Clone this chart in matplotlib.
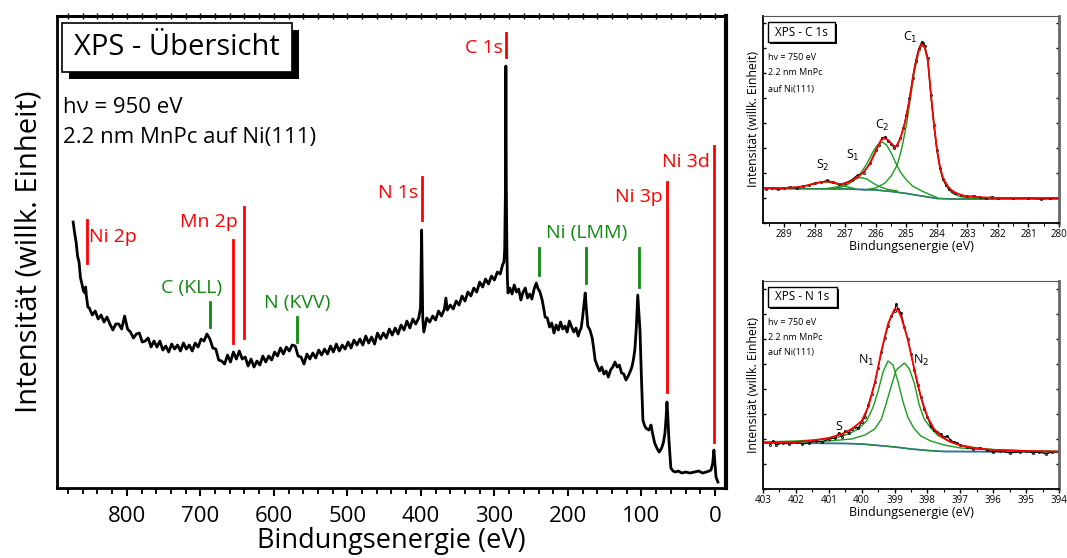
import matplotlib
matplotlib.use('Agg')
import matplotlib.pyplot as plt
from matplotlib.patches import Rectangle
from matplotlib.ticker import MultipleLocator, NullLocator

plt.rcParams['font.family'] = ['Open Sans', 'DejaVu Sans']

# ---------------- survey spectrum (binding energy eV, intensity a.u.) ----------------
survey_E = [873, 871, 869, 867, 865, 863, 861, 859, 857, 856, 855, 853,
            851, 847, 843, 839, 835, 831, 827, 823, 819, 815, 811, 807, 803, 799, 795, 791,
            787, 783, 779, 775, 771, 767, 763, 759, 755, 751, 747, 743, 739, 735, 731, 727,
            723, 719, 715, 711, 707, 703, 699, 695, 691, 687, 683, 679, 675, 671, 667, 663,
            659, 655, 651, 647, 643, 639, 635, 631, 627, 623, 619, 615, 611, 607, 603, 599,
            595, 591, 587, 583, 579, 575, 571, 567, 563, 559, 555, 551, 547, 543, 539, 535,
            531, 527, 523, 519, 515, 511, 507, 503, 499, 495, 491, 487, 483, 479, 475, 471,
            467, 463, 459, 455, 451, 447, 443, 439, 435, 431, 427, 423, 419, 415, 411, 407, 403,
            400.5, 399, 397.5, 396,
            392, 388, 384, 380, 376, 372, 368, 366, 364, 360, 356, 352, 348, 344, 340, 336,
            332, 328, 324, 320, 316, 312, 308, 304, 300, 296, 292, 289, 287, 286, 285, 284.4,
            283.8, 283, 282.3, 281.5,
            279, 276, 273, 270, 267, 264, 261, 258, 255, 252, 249, 246, 243, 241, 238, 235,
            233, 231, 228, 225, 222, 219, 216, 213, 210, 207, 204, 201, 198, 195, 192, 189,
            186, 184, 182, 180, 178, 176.5, 175, 173, 170, 167, 165, 163, 160, 157, 154, 151,
            148, 145, 142, 139, 136, 133, 130, 127, 124, 121, 118, 115, 113, 111, 109, 107,
            105, 103.5, 102, 100, 98, 96, 94, 92, 90, 88, 87, 85, 82, 79, 76, 74, 72, 70, 68,
            66.5, 65.3, 64, 62.6, 61, 60, 57, 54, 50, 45, 40, 34, 28, 22, 17, 12, 8, 5.4, 3,
            1.4, 0, -1.4, -4]
survey_I = [266, 255, 246, 232, 226, 210, 204, 197, 195, 201, 192, 181,
            180, 173, 177, 169, 173, 166, 171, 164, 158, 164, 164, 159, 172, 159, 156, 150,
            154, 155, 146, 147, 150, 141, 147, 141, 147, 138, 142, 136, 144, 139, 143, 137,
            145, 139, 143, 137, 145, 141, 149, 147, 154, 149, 140, 139, 128, 127, 124, 133,
            126, 136, 129, 137, 129, 131, 122, 129, 121, 127, 123, 132, 126, 132, 128, 136,
            132, 140, 134, 141, 137, 143, 142, 132, 131, 124, 134, 129, 135, 130, 138, 133,
            139, 134, 142, 136, 144, 137, 143, 139, 146, 140, 148, 143, 149, 143, 152, 145,
            151, 144, 155, 149, 155, 150, 159, 153, 160, 154, 163, 158, 167, 160, 169, 164, 170,
            180, 258, 170, 156,
            170, 166, 172, 168, 177, 172, 179, 190, 178, 183, 179, 187, 183, 192, 187, 196,
            192, 200, 196, 206, 201, 209, 204, 212, 208, 216, 214, 223, 226, 238, 300, 422,
            300, 238, 208, 195,
            200, 194, 203, 196, 199, 188, 196, 200, 190, 194, 189, 199, 205, 200, 196, 188,
            180, 171, 170, 161, 165, 155, 163, 158, 166, 159, 162, 156, 167, 161, 156, 160,
            152, 157, 160, 171, 185, 195, 180, 162, 158, 150, 140, 128, 122, 117, 121, 114,
            117, 111, 118, 121, 126, 121, 123, 115, 114, 108, 112, 117, 121, 128, 138, 160,
            193, 175, 158, 110, 68, 63, 60, 59, 58, 61, 63, 55, 45, 40, 36, 38, 41, 46, 55,
            70, 86, 70, 48, 30, 20, 17, 16, 17, 15, 16, 15, 16, 17, 15, 16, 17, 18, 25,
            38, 25, 11, 6]

# peak markers in the survey
red_labels = ['Ni 2p', 'Mn 2p', 'N 1s', 'C 1s', 'Ni 3p', 'Ni 3d']
red_text_E = [851, 649, 404, 288.5, 70.7, 6.8]
red_text_I = [251, 266, 295, 440, 291, 326]
red_line_E = [854, 656, 641, 399, 284, 65.7, 1]
red_line_lo = [225, 145, 150, 268, 431, 96, 46]
red_line_hi = [268, 248, 281, 311, 455, 306, 342]

green_labels = ['C (KLL)', 'N (KVV)', 'Ni (LMM)']
green_text_E = [711.6, 568, 174]
green_text_I = [200, 185, 255]
green_line_E = [687, 569, 240, 176, 103]
green_line_lo = [161, 146, 213, 205, 201]
green_line_hi = [186, 171, 240, 240, 240]

# ---------------- C 1s detail ----------------
c_data_E = [289.6, 289.4, 289.2, 289.0, 288.8, 288.6, 288.4, 288.2, 288.0, 287.8, 287.6, 287.4,
            287.2, 287.0, 286.8, 286.6, 286.4, 286.2, 286.0, 285.9, 285.8, 285.7, 285.6, 285.5,
            285.4, 285.3, 285.2, 285.1, 285.0, 284.9, 284.8, 284.7, 284.6, 284.5, 284.45, 284.4,
            284.3, 284.2, 284.1, 284.0, 283.9, 283.8, 283.7, 283.6, 283.5, 283.4, 283.2, 283.0,
            282.8, 282.6, 282.4, 282.2, 282.0, 281.5, 281.0, 280.6, 280.3, 280.0]
c_data_I = [34, 35, 33.5, 35, 36, 34.5, 37, 37.5, 40, 40.5, 42.5, 41,
            38.5, 40, 43, 48, 50, 60, 73, 78, 85, 86, 82, 79,
            75, 78, 85, 95, 108, 125, 145, 162, 174, 181, 180, 177,
            165, 128, 98, 73, 55, 44, 38, 34, 32, 30, 28, 26.5,
            27, 25.5, 25, 26, 25, 24.5, 25, 24, 25, 24.5]
c_env_E = [289.7, 289.0, 288.5, 288.1, 287.8, 287.6, 287.4, 287.2, 287.0, 286.8, 286.6, 286.4,
           286.2, 286.0, 285.85, 285.75, 285.6, 285.45, 285.35, 285.2, 285.05, 284.9, 284.75,
           284.6, 284.5, 284.4, 284.3, 284.2, 284.1, 284.0, 283.9, 283.8, 283.65, 283.5, 283.3,
           283.1, 282.8, 282.0, 280.0]
c_env_I = [35, 35, 36, 38.5, 41, 41.5, 40.5, 39, 39.5, 42, 46, 51,
           59, 72, 82, 85, 83, 78, 76, 84, 100, 123, 152,
           172, 179, 176, 163, 130, 100, 74, 56, 45, 37, 32, 29,
           27, 26, 25, 25]
c_bkg_E = [289.7, 287.0, 286.0, 285.5, 285.0, 284.5, 284.0, 283.5, 280.0]
c_bkg_I = [34.5, 34, 33, 31.5, 29.5, 27, 24.5, 24, 24]
c1_E = [286.4, 286.0, 285.7, 285.5, 285.3, 285.15, 285.0, 284.9, 284.75, 284.6, 284.5, 284.4,
        284.3, 284.2, 284.1, 284.0, 283.9, 283.8, 283.65, 283.5, 283.3, 283.0, 282.5, 282.0]
c1_I = [33, 35, 40, 47, 58, 75, 98, 118, 150, 172, 178, 175,
        162, 128, 98, 72, 54, 43, 35, 30, 27, 25, 24.5, 24]
c2_E = [287.4, 287.0, 286.6, 286.3, 286.1, 285.95, 285.8, 285.65, 285.5, 285.35, 285.2, 285.0,
        284.8, 284.5, 284.2, 284.0]
c2_I = [34, 37, 45, 59, 71, 78, 81, 78, 70, 60, 51, 43,
        37, 32, 28, 25.5]
s1_E = [287.6, 287.2, 286.9, 286.7, 286.5, 286.3, 286.1, 285.9, 285.6, 285.3]
s1_I = [34.5, 36.5, 41, 44, 45.5, 44, 40, 36.5, 33.5, 32]
s2_E = [288.8, 288.4, 288.1, 287.9, 287.7, 287.5, 287.3, 287.0, 286.7]
s2_I = [35, 36.5, 39, 40.5, 41, 40.5, 39, 36.5, 34.5]
c_labels = ['C$_1$', 'C$_2$', 'S$_1$', 'S$_2$']
c_label_E = [284.86, 285.78, 286.76, 287.75]
c_label_I = [186, 98, 68, 58]

# ---------------- N 1s detail ----------------
n_data_E = [402.8, 402.7, 402.6, 402.4, 402.2, 402.0, 401.8, 401.6, 401.4, 401.2, 401.0, 400.8,
            400.7, 400.6, 400.5, 400.4, 400.3, 400.2, 400.1, 400.0, 399.9, 399.8, 399.7, 399.6,
            399.5, 399.4, 399.3, 399.2, 399.1, 399.0, 398.95, 398.9, 398.8, 398.7, 398.6, 398.5,
            398.4, 398.3, 398.2, 398.1, 398.0, 397.9, 397.8, 397.7, 397.6, 397.5, 397.4, 397.3,
            397.2, 397.1, 397.0, 396.8, 396.6, 396.4, 396.2, 396.0, 395.8, 395.5, 395.2, 395.0,
            394.8, 394.6, 394.4, 394.2, 394.0]
n_data_I = [44, 48, 44, 46, 45, 47, 45, 46, 48, 47, 50, 51,
            56, 52, 58, 56, 60, 62, 61, 67, 72, 84, 95, 107,
            121, 137, 151, 163, 173, 178, 185, 180, 176, 162, 150, 135,
            119, 104, 92, 80, 72, 63, 59, 57, 55, 52, 53, 49,
            47, 46, 44, 42, 40, 41, 39, 37, 38, 36, 37, 38,
            36, 37, 35, 37, 37]
n_env_E = [403, 402, 401.5, 401, 400.6, 400.3, 400.0, 399.8, 399.6, 399.4, 399.2, 399.0, 398.9,
           398.8, 398.6, 398.4, 398.2, 398.0, 397.8, 397.6, 397.3, 397.0, 396.5, 396, 395, 394]
n_env_I = [46, 47, 48.5, 51, 55, 60, 68, 82, 106, 138, 165, 180, 179,
           172, 150, 120, 92, 72, 60, 53, 47, 43.5, 40.5, 39, 38, 37.5]
n_bkg_E = [403, 400.5, 400, 399.5, 399, 398.5, 398, 397.5, 394]
n_bkg_I = [46, 45.5, 45, 43.5, 42, 40, 38.5, 37.5, 37]
n1_E = [403, 402, 401.2, 400.8, 400.4, 400.1, 399.85, 399.65, 399.5, 399.35, 399.2, 399.05,
        398.9, 398.75, 398.6, 398.4, 398.2, 397.9, 397.5, 397, 396, 394]
n1_I = [47, 48, 49.5, 51, 55, 60, 68, 82, 98, 117, 128, 124,
        108, 88, 72, 60, 53, 48, 44, 41, 39, 37.5]
n2_E = [403, 402, 401, 400.3, 399.9, 399.6, 399.4, 399.25, 399.1, 398.95, 398.7, 398.55,
        398.4, 398.25, 398.1, 397.9, 397.7, 397.4, 397, 396.5, 396, 395, 394]
n2_I = [46.5, 47, 48, 50, 54, 60, 70, 86, 103, 119, 126, 120,
        106, 84, 70, 61, 54, 48.5, 44, 41, 39.5, 38, 37.5]
n_labels = ['N$_1$', 'N$_2$', 'S']
n_label_E = [399.85, 398.2, 400.7]
n_label_I = [129, 129, 62]

RED = '#ff0000'
GREEN = '#118a11'
FGREEN = '#1c9a1c'


def shadow_box(ax, x0, y0, w, h, dx, dy, lw):
    ax.add_patch(Rectangle((x0 + dx, y0 - dy), w, h, transform=ax.transAxes,
                           facecolor='black', edgecolor='black', lw=0,
                           clip_on=False, zorder=8))
    ax.add_patch(Rectangle((x0, y0), w, h, transform=ax.transAxes,
                           facecolor='white', edgecolor='black', lw=lw,
                           clip_on=False, zorder=9))


fig = plt.figure(figsize=(10.67, 5.58), dpi=100)

# ---------------- main survey ----------------
ax = fig.add_axes([0.0534, 0.1254, 0.627, 0.8459])
ax.plot(survey_E, survey_I, color='black', lw=2.0, zorder=3)
ax.set_xlim(895, -15)
ax.set_ylim(0, 472)
ax.xaxis.set_major_locator(MultipleLocator(100))
ax.xaxis.set_minor_locator(MultipleLocator(20))
ax.yaxis.set_major_locator(NullLocator())
ax.tick_params(axis='x', which='major', direction='out', length=6, width=1.5,
               labelsize=16, pad=7)
ax.tick_params(axis='x', which='minor', direction='out', length=4, width=1.3)
for side in ['left', 'bottom', 'top']:
    ax.spines[side].set_linewidth(2)
ax.spines['right'].set_linewidth(3)
top = ax.secondary_xaxis('top')
top.xaxis.set_major_locator(MultipleLocator(20))
top.tick_params(axis='x', which='major', direction='inout', length=4, width=1,
                labeltop=False)
top.spines['top'].set_linewidth(2)
ax.set_xlabel('Bindungsenergie (eV)', fontsize=19.5, labelpad=0)
ax.set_ylabel('Intensität (willk. Einheit)', fontsize=21, labelpad=10)

for E, lo, hi in zip(red_line_E, red_line_lo, red_line_hi):
    ax.plot([E, E], [lo, hi], color=RED, lw=2, zorder=4)
for i, (lab, E, v) in enumerate(zip(red_labels, red_text_E, red_text_I)):
    ax.text(E, v, lab, color=RED, fontsize=14, ha='left' if i == 0 else 'right',
            va='center')
for E, lo, hi in zip(green_line_E, green_line_lo, green_line_hi):
    ax.plot([E, E], [lo, hi], color=GREEN, lw=2, zorder=4)
for lab, E, v in zip(green_labels, green_text_E, green_text_I):
    ax.text(E, v, lab, color=GREEN, fontsize=14, ha='center', va='center')

shadow_box(ax, 0.0075, 0.881, 0.344, 0.104, 0.0105, 0.0148, 1.2)
ax.text(0.179, 0.933, 'XPS - Übersicht', transform=ax.transAxes, fontsize=21,
        ha='center', va='center', zorder=10)
ax.text(0.009, 0.807, 'hν = 950 eV', transform=ax.transAxes, fontsize=16,
        ha='left', va='center')
ax.text(0.009, 0.742, '2.2 nm MnPc auf Ni(111)', transform=ax.transAxes,
        fontsize=16, ha='left', va='center')


def style_inset(a):
    a.xaxis.set_major_locator(MultipleLocator(1))
    a.xaxis.set_minor_locator(MultipleLocator(0.5))
    a.yaxis.set_major_locator(MultipleLocator(25))
    a.tick_params(axis='x', which='major', direction='out', length=3, width=1,
                  labelsize=7, pad=1.5)
    a.tick_params(axis='x', which='minor', direction='out', length=2, width=0.8)
    a.tick_params(axis='y', which='major', direction='in', length=2, width=1,
                  left=True, right=True, labelleft=False)
    a.spines['left'].set_linewidth(1.3)
    a.spines['bottom'].set_linewidth(1.3)
    a.spines['top'].set_color('#555555')
    a.spines['right'].set_color('#666666')
    a.spines['right'].set_linewidth(2)
    a.set_xlabel('Bindungsenergie (eV)', fontsize=9, labelpad=0)
    a.set_ylabel('Intensität (willk. Einheit)', fontsize=8.8, labelpad=2)


# ---------------- C 1s inset ----------------
ax1 = fig.add_axes([0.7151, 0.6004, 0.2774, 0.3710])
ax1.plot(c_bkg_E, c_bkg_I, color='#3355cc', lw=1.2)
for cE, cI in [(c1_E, c1_I), (c2_E, c2_I), (s1_E, s1_I), (s2_E, s2_I)]:
    ax1.plot(cE, cI, color=FGREEN, lw=1.0)
ax1.plot(c_bkg_E, c_bkg_I, color=FGREEN, lw=1.0, alpha=0.8)
ax1.plot(c_data_E, c_data_I, color='black', lw=0.8, marker='o', ms=1.5, mfc='none',
         mew=0.6)
ax1.plot(c_env_E, c_env_I, color=RED, lw=1.3)
ax1.set_xlim(289.7, 280)
ax1.set_ylim(0, 207)
style_inset(ax1)
for lab, E, v in zip(c_labels, c_label_E, c_label_I):
    ax1.text(E, v, lab, fontsize=9, ha='center', va='center')
shadow_box(ax1, 0.017, 0.874, 0.226, 0.097, 0.007, 0.01, 1.0)
ax1.text(0.13, 0.922, 'XPS - C 1s', transform=ax1.transAxes, fontsize=8.5,
         ha='center', va='center', zorder=10)
for txt, yy in zip(['hv = 750 eV', '2.2 nm MnPc', 'auf Ni(111)'], [0.80, 0.725, 0.647]):
    ax1.text(0.017, yy, txt, transform=ax1.transAxes, fontsize=6.5,
             ha='left', va='center')

# ---------------- N 1s inset ----------------
ax2 = fig.add_axes([0.7151, 0.1237, 0.2774, 0.3728])
ax2.plot(n_bkg_E, n_bkg_I, color='#3355cc', lw=1.2)
for cE, cI in [(n1_E, n1_I), (n2_E, n2_I)]:
    ax2.plot(cE, cI, color=FGREEN, lw=1.0)
ax2.plot(n_bkg_E, n_bkg_I, color=FGREEN, lw=1.0, alpha=0.8)
ax2.plot(n_data_E, n_data_I, color='black', lw=0.8, marker='o', ms=1.5, mfc='none',
         mew=0.6)
ax2.plot(n_env_E, n_env_I, color=RED, lw=1.3)
ax2.set_xlim(403, 394)
ax2.set_ylim(0, 208)
style_inset(ax2)
for lab, E, v in zip(n_labels, n_label_E, n_label_I):
    ax2.text(E, v, lab, fontsize=9, ha='center', va='center')
shadow_box(ax2, 0.017, 0.875, 0.233, 0.096, 0.007, 0.01, 1.0)
ax2.text(0.133, 0.923, 'XPS - N 1s', transform=ax2.transAxes, fontsize=8.5,
         ha='center', va='center', zorder=10)
for txt, yy in zip(['hv = 750 eV', '2.2 nm MnPc', 'auf Ni(111)'], [0.80, 0.726, 0.654]):
    ax2.text(0.017, yy, txt, transform=ax2.transAxes, fontsize=6.5,
             ha='left', va='center')

fig.savefig('out.png', dpi=100, facecolor='white')
